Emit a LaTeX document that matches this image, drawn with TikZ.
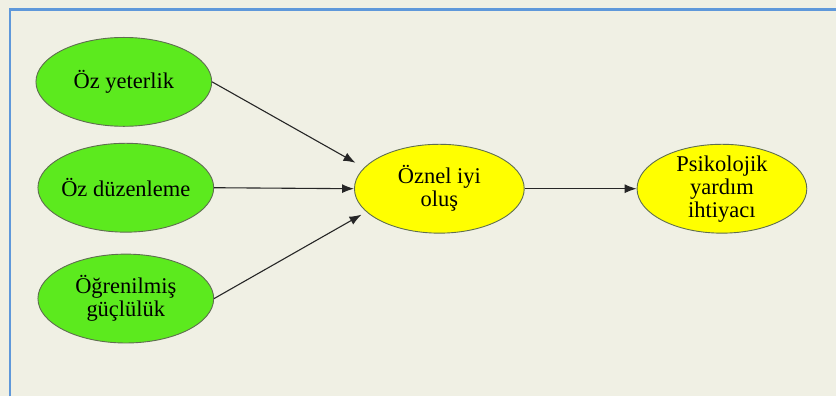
\documentclass[tikz,border=0pt]{standalone}
\usepackage{fontspec}
\setmainfont{Liberation Serif}
\usetikzlibrary{arrows.meta,shapes.geometric,positioning}
\definecolor{modelBack}  {RGB}{240, 240, 228}
\definecolor{modelFrame} {RGB}{ 95, 152, 218}
\definecolor{modelGreen} {RGB}{ 92, 234,  30}
\definecolor{modelYellow}{RGB}{255, 255,   0}
\definecolor{modelEdge}  {RGB}{ 95, 110,  80}

\begin{document}
\begin{tikzpicture}[x=1pt,y=-1pt,
    factor/.style={ellipse,draw=modelEdge,line width=0.9pt,
                   minimum width=176pt,minimum height=89pt,inner sep=-14pt,
                   align=center,font=\fontsize{22.5}{23}\selectfont},
    cause/.style={factor,fill=modelGreen},
    effect/.style={factor,fill=modelYellow,minimum width=170pt},
    link/.style={-{Latex[length=12pt,width=9pt]},line width=1.1pt,black!85}]

    % zemin ve çerçeve
    \fill[modelBack] (0,0) rectangle (837,397);
    \draw[modelFrame,line width=2.5pt] (10,397) -- (10,9.5) -- (837,9.5);

    % ── bağımsız değişkenler ──────────────────────────────
    \node[cause] (yeterlik)  at (124,82)  {Öz yeterlik};
    \node[cause] (duzenleme) at (126,188) {Öz düzenleme};
    \node[cause] (guclu)     at (126,299) {Öğrenilmiş\\güçlülük};

    % ── aracı ve sonuç ───────────────────────────────────
    \node[effect] (iyiolus)  at (440,189) {Öznel iyi\\oluş};
    \node[effect] (yardim)   at (723,189) {Psikolojik\\yardım\\ihtiyacı};

    % yollar
    \draw[link] (yeterlik.east)  -- (356,163);
    \draw[link] (duzenleme.east) -- (iyiolus.west);
    \draw[link] (guclu.east)     -- (362,215);
    \draw[link] (iyiolus.east)   -- (yardim.west);

\end{tikzpicture}
\end{document}
